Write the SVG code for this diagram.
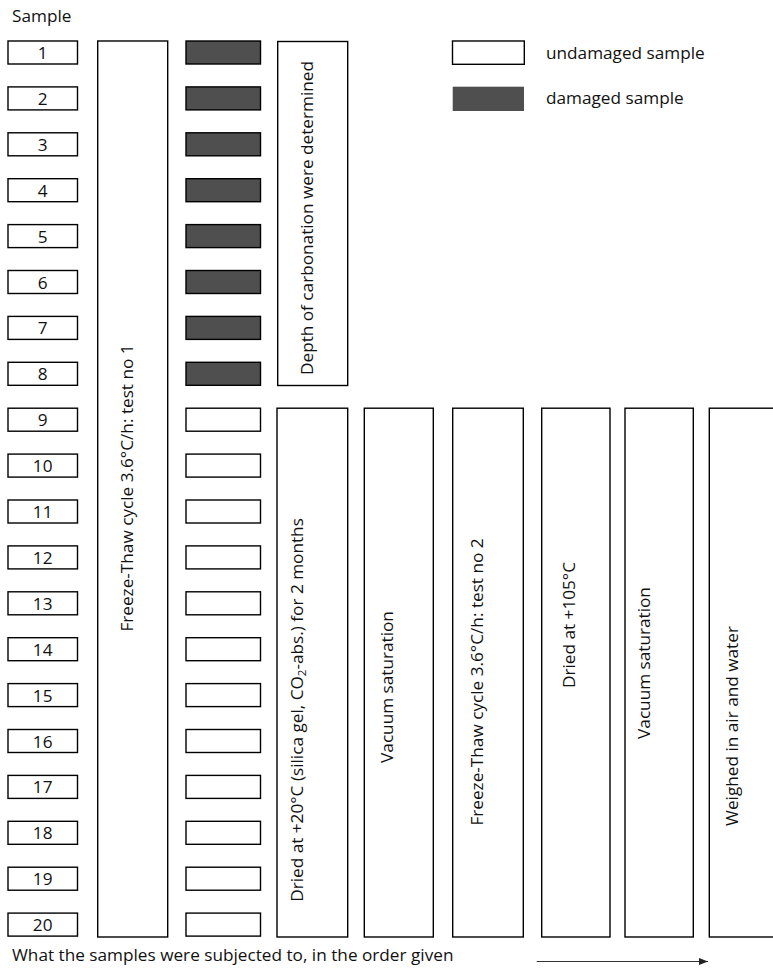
<svg xmlns="http://www.w3.org/2000/svg" width="773" height="976" viewBox="0 0 773 976">
<style>
text{font-family:"Open Sans","Noto Sans","Liberation Sans",sans-serif;font-size:17.2px;fill:#111}
.b{fill:#fff;stroke:#000;stroke-width:1.4}
.d{fill:#4f4f4f;stroke:#000;stroke-width:1.4}
.n{text-anchor:middle}
.v{text-anchor:middle}
</style>
<defs>
<marker id="ah" markerWidth="10" markerHeight="8" refX="9" refY="4" orient="auto" markerUnits="userSpaceOnUse">
<path d="M0,0.5 L9,4 L0,7.5 z" fill="#222"/>
</marker>
</defs>
<text x="12" y="22">Sample</text>
<g id="samples">
<g id="s1"><rect class="b" x="8" y="41" width="69.5" height="23"/><text class="n" x="42.7" y="59">1</text></g>
<g id="s2"><rect class="b" x="8" y="86.9" width="69.5" height="23"/><text class="n" x="42.7" y="104.9">2</text></g>
<g id="s3"><rect class="b" x="8" y="132.8" width="69.5" height="23"/><text class="n" x="42.7" y="150.8">3</text></g>
<g id="s4"><rect class="b" x="8" y="178.7" width="69.5" height="23"/><text class="n" x="42.7" y="196.7">4</text></g>
<g id="s5"><rect class="b" x="8" y="224.6" width="69.5" height="23"/><text class="n" x="42.7" y="242.6">5</text></g>
<g id="s6"><rect class="b" x="8" y="270.5" width="69.5" height="23"/><text class="n" x="42.7" y="288.5">6</text></g>
<g id="s7"><rect class="b" x="8" y="316.4" width="69.5" height="23"/><text class="n" x="42.7" y="334.4">7</text></g>
<g id="s8"><rect class="b" x="8" y="362.3" width="69.5" height="23"/><text class="n" x="42.7" y="380.3">8</text></g>
<g id="s9"><rect class="b" x="8" y="408.2" width="69.5" height="23"/><text class="n" x="42.7" y="426.2">9</text></g>
<g id="s10"><rect class="b" x="8" y="454.1" width="69.5" height="23"/><text class="n" x="42.7" y="472.1">10</text></g>
<g id="s11"><rect class="b" x="8" y="500" width="69.5" height="23"/><text class="n" x="42.7" y="518">11</text></g>
<g id="s12"><rect class="b" x="8" y="545.9" width="69.5" height="23"/><text class="n" x="42.7" y="563.9">12</text></g>
<g id="s13"><rect class="b" x="8" y="591.8" width="69.5" height="23"/><text class="n" x="42.7" y="609.8">13</text></g>
<g id="s14"><rect class="b" x="8" y="637.7" width="69.5" height="23"/><text class="n" x="42.7" y="655.7">14</text></g>
<g id="s15"><rect class="b" x="8" y="683.6" width="69.5" height="23"/><text class="n" x="42.7" y="701.6">15</text></g>
<g id="s16"><rect class="b" x="8" y="729.5" width="69.5" height="23"/><text class="n" x="42.7" y="747.5">16</text></g>
<g id="s17"><rect class="b" x="8" y="775.4" width="69.5" height="23"/><text class="n" x="42.7" y="793.4">17</text></g>
<g id="s18"><rect class="b" x="8" y="821.3" width="69.5" height="23"/><text class="n" x="42.7" y="839.3">18</text></g>
<g id="s19"><rect class="b" x="8" y="867.2" width="69.5" height="23"/><text class="n" x="42.7" y="885.2">19</text></g>
<g id="s20"><rect class="b" x="8" y="913.1" width="69.5" height="23"/><text class="n" x="42.7" y="931.1">20</text></g>
</g>
<g id="ft1"><rect class="b" x="97.7" y="41" width="70" height="896"/><text class="v" transform="translate(133,488) rotate(-90)">Freeze-Thaw cycle 3.6°C/h: test no 1</text></g>
<g id="state">
<rect class="d" x="186" y="41" width="74.5" height="23"/>
<rect class="d" x="186" y="86.9" width="74.5" height="23"/>
<rect class="d" x="186" y="132.8" width="74.5" height="23"/>
<rect class="d" x="186" y="178.7" width="74.5" height="23"/>
<rect class="d" x="186" y="224.6" width="74.5" height="23"/>
<rect class="d" x="186" y="270.5" width="74.5" height="23"/>
<rect class="d" x="186" y="316.4" width="74.5" height="23"/>
<rect class="d" x="186" y="362.3" width="74.5" height="23"/>
<rect class="b" x="186" y="408.2" width="74.5" height="23"/>
<rect class="b" x="186" y="454.1" width="74.5" height="23"/>
<rect class="b" x="186" y="500" width="74.5" height="23"/>
<rect class="b" x="186" y="545.9" width="74.5" height="23"/>
<rect class="b" x="186" y="591.8" width="74.5" height="23"/>
<rect class="b" x="186" y="637.7" width="74.5" height="23"/>
<rect class="b" x="186" y="683.6" width="74.5" height="23"/>
<rect class="b" x="186" y="729.5" width="74.5" height="23"/>
<rect class="b" x="186" y="775.4" width="74.5" height="23"/>
<rect class="b" x="186" y="821.3" width="74.5" height="23"/>
<rect class="b" x="186" y="867.2" width="74.5" height="23"/>
<rect class="b" x="186" y="913.1" width="74.5" height="23"/>
</g>
<g id="depth"><rect class="b" x="277.7" y="41.5" width="70" height="344"/><text class="v" transform="translate(313,218) rotate(-90)">Depth of carbonation were determined</text></g>
<g id="dried20"><rect class="b" x="277" y="408.2" width="70.7" height="528.8"/><text class="v" transform="translate(303,710) rotate(-90)">Dried at +20°C (silica gel, CO<tspan font-size="11.5" dy="3">2</tspan><tspan dy="-3">-abs.) for 2 months</tspan></text></g>
<g id="vac1"><rect class="b" x="364.3" y="408.2" width="69" height="528.8"/><text class="v" transform="translate(393,687) rotate(-90)">Vacuum saturation</text></g>
<g id="ft2"><rect class="b" x="452.7" y="408.2" width="70.6" height="528.8"/><text class="v" transform="translate(483,682) rotate(-90)">Freeze-Thaw cycle 3.6°C/h: test no 2</text></g>
<g id="dried105"><rect class="b" x="541.7" y="408.2" width="68.3" height="528.8"/><text class="v" transform="translate(575,625) rotate(-90)">Dried at +105°C</text></g>
<g id="vac2"><rect class="b" x="625" y="408.2" width="68.3" height="528.8"/><text class="v" transform="translate(650,663) rotate(-90)">Vacuum saturation</text></g>
<g id="weigh"><rect class="b" x="709.3" y="408.2" width="80" height="528.8"/><text class="v" transform="translate(738,726) rotate(-90)">Weighed in air and water</text></g>
<g id="legend">
<rect class="b" x="452.5" y="41" width="71.8" height="23.3"/><text x="546" y="59">undamaged sample</text>
<rect x="452.7" y="86.7" width="71.3" height="24.3" fill="#4f4f4f"/><text x="546" y="104">damaged sample</text>
</g>
<text x="12" y="961">What the samples were subjected to, in the order given</text>
<g id="connectors">
<line x1="536.7" y1="961.5" x2="708" y2="961.5" stroke="#333" stroke-width="1" marker-end="url(#ah)"/>
</g>
</svg>
